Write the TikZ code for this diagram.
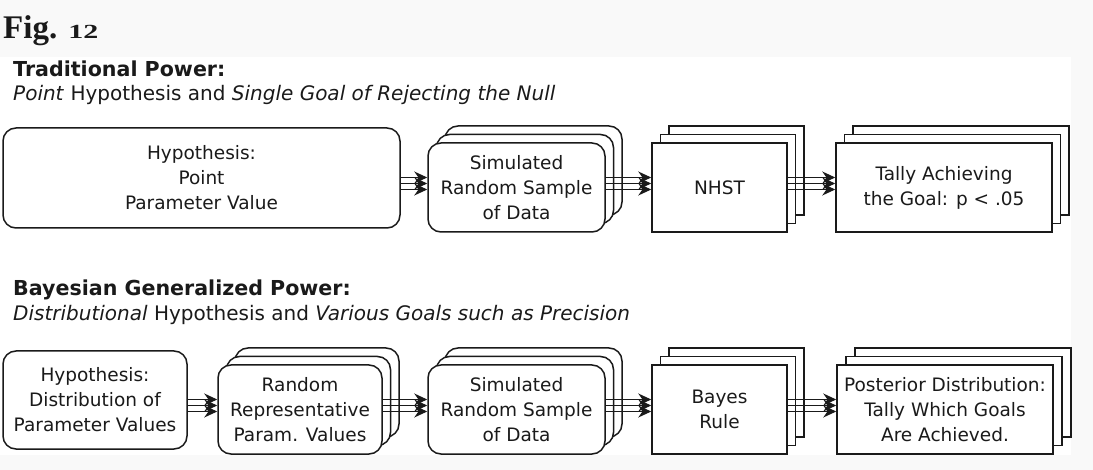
\documentclass[tikz,border=0pt]{standalone}
\usepackage{fontspec}
\setmainfont{DejaVu Sans}[BoldFont={DejaVu Sans Bold},ItalicFont={DejaVu Sans Oblique},BoldItalicFont={DejaVu Sans Bold Oblique}]
\newfontfamily\figfont{Liberation Serif}
\usetikzlibrary{arrows.meta,calc}
\definecolor{ink}{HTML}{1A1A1A}
\definecolor{bggray}{HTML}{F9F9F9}
\tikzset{
  box/.style={draw=ink, line width=1.5pt, fill=white, inner sep=0pt, align=center,
    font=\fontsize{18.5}{25}\selectfont, text=ink},
  rbox/.style={box, rounded corners=13pt},
  arr/.style={draw=ink, line width=1.2pt, -{Stealth[length=13pt,width=12pt]}},
  heading/.style={anchor=base west, inner sep=0pt, font=\fontsize{20.6}{20.6}\selectfont\bfseries, text=ink},
  subheading/.style={anchor=base west, inner sep=0pt, font=\fontsize{20}{20}\selectfont, text=ink},
}
% stacked box: name, style, cx, cy, w, h, dx, text
\newcommand\stackthree[8]{%
  \node[#2, minimum width=#5pt, minimum height=#6pt] (#1c) at (#3+2*#7,#4-17) {};
  \node[#2, minimum width=#5pt, minimum height=#6pt] (#1b) at (#3+#7,#4-8.5) {};
  \node[#2, minimum width=#5pt, minimum height=#6pt] (#1) at (#3,#4) {#8};
}
\newcommand\multiarrow[2]{%
  \foreach \s in {-10,-4,2}{%
    \coordinate (t#1#2) at ($(#2.west)+(0,\s)$);
    \draw[arr] (#1.east |- t#1#2) -- (t#1#2);
  }%
}
\begin{document}
\begin{tikzpicture}[x=1pt,y=-1pt]
\useasboundingbox (0,0) rectangle (1093,470);
\fill[bggray] (0,0) rectangle (1093,470);
\fill[white] (0,57) rectangle (1071,455);

\node[anchor=base west, inner sep=0pt, text=ink] (fig) at (3,39)
  {\figfont\bfseries\fontsize{33}{33}\selectfont Fig. \fontsize{20}{20}\selectfont\scalebox{1.5}[1]{12}};

% top row
\node[heading] (t1) at (13,77) {Traditional Power:};
\node[subheading] (s1) at (13,101) {\textit{Point} Hypothesis and \textit{Single Goal of Rejecting the Null}};

\node[rbox, minimum width=397pt, minimum height=100pt] (hyp1) at (201.5,178)
  {Hypothesis:\\Point\\Parameter Value};
\stackthree{sim1}{rbox}{516.5}{187.5}{177}{89}{8.5}{Simulated\\Random Sample\\of Data}
\stackthree{nhst}{box}{719.5}{187.5}{135}{89}{8.5}{NHST}
\stackthree{tally}{box}{944}{187.5}{216}{89}{8.5}{Tally Achieving\\the Goal: p < .05}

\multiarrow{hyp1}{sim1}
\multiarrow{sim1}{nhst}
\multiarrow{nhst}{tally}

% bottom row
\node[heading] (t2) at (13,296) {Bayesian Generalized Power:};
\node[subheading] (s2) at (13,321) {\textit{Distributional} Hypothesis and \textit{Various Goals such as Precision}};

\node[rbox, minimum width=184pt, minimum height=98pt] (hyp2) at (95,400)
  {Hypothesis:\\Distribution of\\Parameter Values};
\stackthree{rr}{rbox}{300}{409.5}{164}{89}{8.5}{Random\\Representative\\Param. Values}
\stackthree{sim2}{rbox}{516.5}{409.5}{177}{89}{8.5}{Simulated\\Random Sample\\of Data}
\stackthree{bayes}{box}{719.5}{409.5}{135}{89}{8.5}{Bayes\\Rule}
\stackthree{post}{box}{945}{409.5}{216}{89}{9}{Posterior Distribution:\\Tally Which Goals\\Are Achieved.}

\multiarrow{hyp2}{rr}
\multiarrow{rr}{sim2}
\multiarrow{sim2}{bayes}
\multiarrow{bayes}{post}
\end{tikzpicture}
\end{document}
